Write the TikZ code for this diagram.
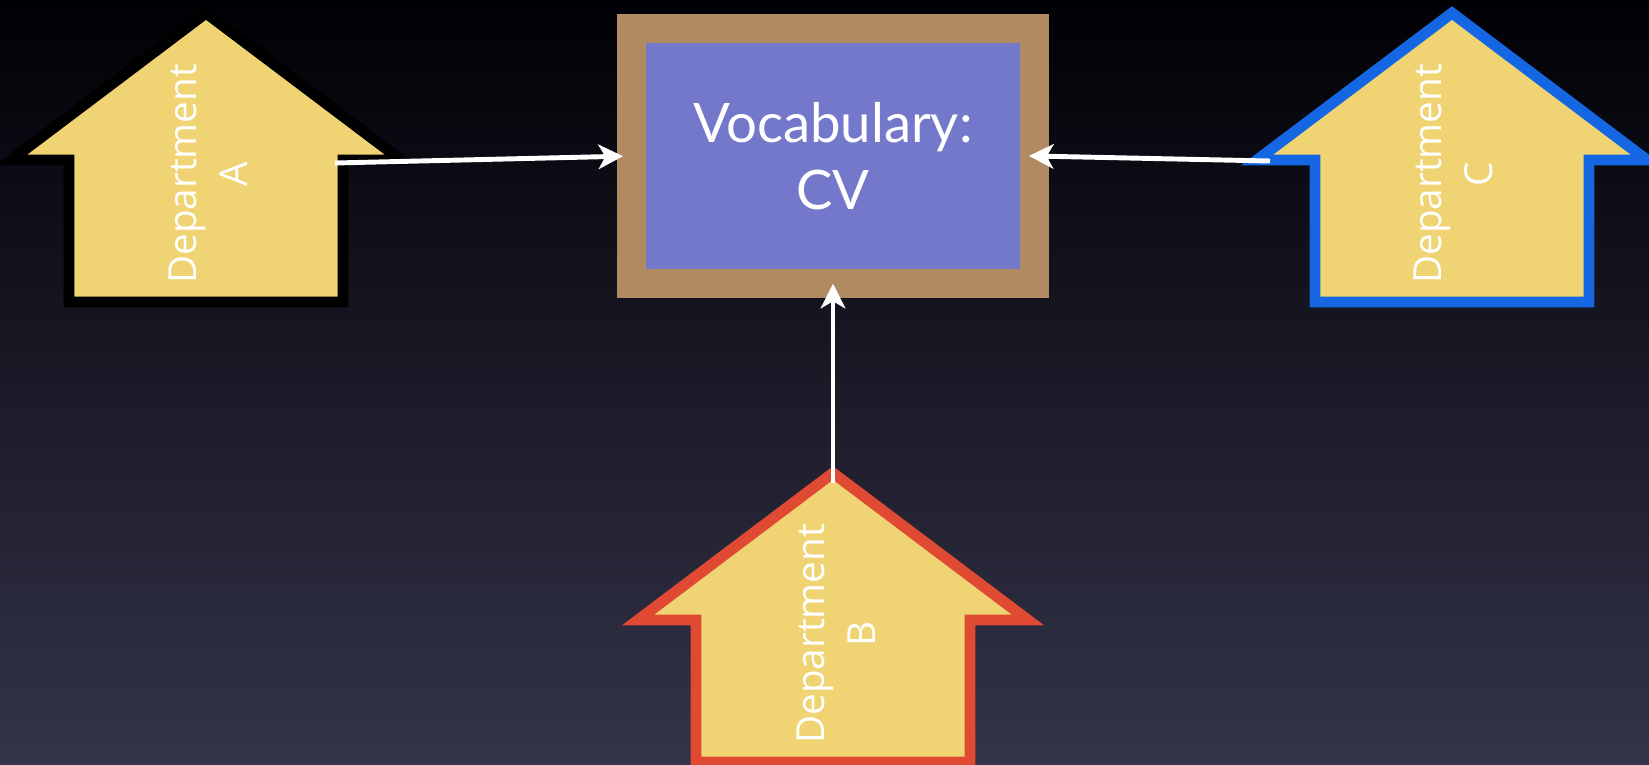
\documentclass[tikz,border=0pt]{standalone}
\usepackage{fontspec}
\setmainfont{Lato}
\newfontfamily\deptfont{Open Sans}
\usetikzlibrary{arrows.meta}

\definecolor{skytop}{HTML}{000005}
\definecolor{skybottom}{HTML}{34344A}
\definecolor{paper}{HTML}{F0D372}
\definecolor{frame}{HTML}{B08A60}
\definecolor{vocabblue}{HTML}{7378CB}
\definecolor{redline}{HTML}{E04A32}
\definecolor{blueline}{HTML}{1566E2}

\tikzset{
	house/.style={fill=paper, line width=6.2pt, line join=miter},
	dept/.style={rotate=90, text=white, align=center, font=\deptfont\fontsize{22}{29}\selectfont},
	vocab/.style={draw=frame, fill=vocabblue, line width=16.7pt, minimum width=8.05cm, minimum height=5.11cm, outer sep=0pt, text=white, align=center, font=\fontsize{31}{38}\selectfont},
	link/.style={draw=white, line width=2.8pt, -{Stealth[length=14pt,width=14pt,inset=4pt]}},
}

\begin{document}
\begin{tikzpicture}[x=0.02cm, y=-0.02cm]
	\useasboundingbox (0,0) rectangle (1649,764);
	\clip (0,0) rectangle (1649,764);
	\shade[top color=skytop, bottom color=skybottom] (0,0) rectangle (1649,764);

	% the three departments
	\draw[house, draw=black] (206,13) -- (401,160) -- (343,160) -- (343,302) -- (69,302) -- (69,160) -- (11,160) -- cycle;
	\draw[house, draw=redline] (833,473) -- (1028,620) -- (970,620) -- (970,762) -- (696,762) -- (696,620) -- (638,620) -- cycle;
	\draw[house, draw=blueline] (1452,13) -- (1647,160) -- (1589,160) -- (1589,302) -- (1315,302) -- (1315,160) -- (1257,160) -- cycle;

	\node[dept] (deptA) at (208,174) {Department\\A};
	\node[dept] (deptB) at (836,634) {Department\\B};
	\node[dept] (deptC) at (1453,174) {Department\\C};

	\coordinate (A-eave) at (335,163);
	\coordinate (B-roof) at (833,483);
	\coordinate (C-eave) at (1270,161);

	\node[vocab] (vocab) at (833,156) {Vocabulary:\\CV};

	\draw[link, shorten >=5pt] (A-eave) -- (vocab.west);
	\draw[link] (B-roof) -- (vocab.south);
	\draw[link, shorten >=-3pt] (C-eave) -- (vocab.east);
\end{tikzpicture}
\end{document}
